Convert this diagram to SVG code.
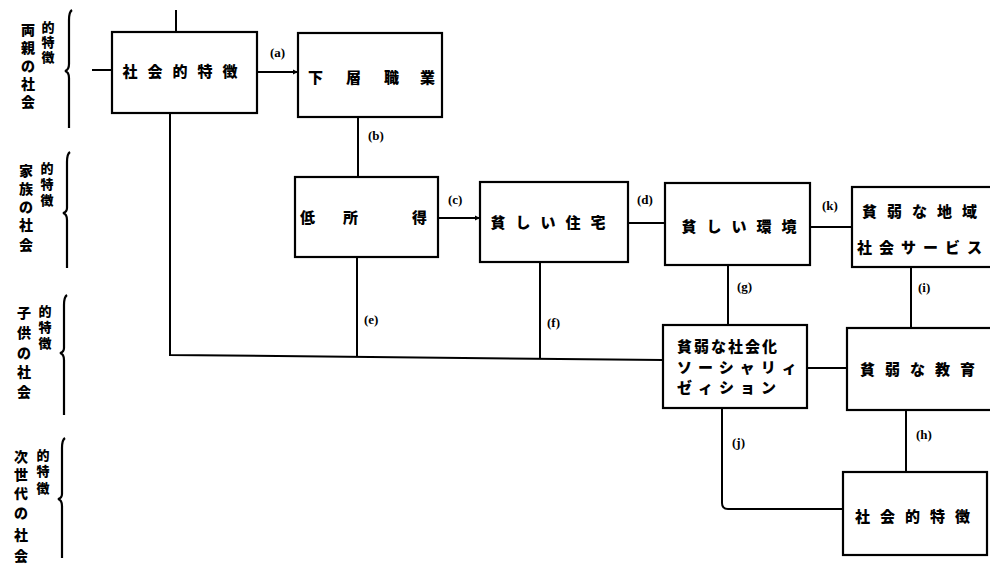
<svg xmlns="http://www.w3.org/2000/svg" width="990" height="565" viewBox="0 0 990 565">
<defs>
<style>
.box{fill:#fff;stroke:#000;stroke-width:2.2}
.ln{fill:none;stroke:#000;stroke-width:2}
.br{fill:none;stroke:#000;stroke-width:2.2}
.t{font-family:"Noto Sans CJK JP","Noto Sans CJK SC",sans-serif;font-weight:900;font-size:15px;fill:#000}
.sd{font-family:"Noto Sans CJK JP",sans-serif;font-weight:900;font-size:14px;fill:#000;text-anchor:middle}
.sr{font-family:"Noto Sans CJK JP",sans-serif;font-weight:900;font-size:13px;fill:#000;text-anchor:middle}
.lb{font-family:"Liberation Serif",serif;font-weight:bold;font-size:13px;fill:#000}
</style>
<marker id="ah" markerWidth="6" markerHeight="6" refX="5" refY="3" orient="auto" markerUnits="userSpaceOnUse">
<path d="M0,0.5 L5,3 L0,5.5 Z" fill="#000"/>
</marker>
</defs>
<rect width="990" height="565" fill="#fff"/>

<g id="side-labels">
<g id="side1">
<path class="br" d="M72,10 Q69,12 69,20 L69,64 Q69,70 65,71 Q69,72 69,78 L69,128"/>
<text class="sd" x="28" y="35">両</text>
<text class="sd" x="28" y="53">親</text>
<text class="sd" x="28" y="71">の</text>
<text class="sd" x="28" y="89">社</text>
<text class="sd" x="28" y="107">会</text>
<text class="sr" x="48" y="32">的</text>
<text class="sr" x="48" y="47">特</text>
<text class="sr" x="48" y="62">徴</text>
</g>
<g id="side2">
<path class="br" d="M70,152 Q67,154 67,162 L67,208 Q67,212 63,213 Q67,214 67,220 L67,268"/>
<text class="sd" x="26" y="176">家</text>
<text class="sd" x="26" y="194">族</text>
<text class="sd" x="26" y="212">の</text>
<text class="sd" x="26" y="230">社</text>
<text class="sd" x="26" y="250">会</text>
<text class="sr" x="47" y="173">的</text>
<text class="sr" x="47" y="189">特</text>
<text class="sr" x="47" y="205">徴</text>
</g>
<g id="side3">
<path class="br" d="M67,295 Q64,297 64,305 L64,348 Q64,352 60,353 Q64,354 64,360 L64,415"/>
<text class="sd" x="24" y="318">子</text>
<text class="sd" x="24" y="338">供</text>
<text class="sd" x="24" y="358">の</text>
<text class="sd" x="24" y="377">社</text>
<text class="sd" x="24" y="397">会</text>
<text class="sr" x="45" y="316">的</text>
<text class="sr" x="45" y="332">特</text>
<text class="sr" x="45" y="348">徴</text>
</g>
<g id="side4">
<path class="br" d="M65,438 Q62,440 62,448 L62,494 Q62,498 58,499 Q62,500 62,506 L62,558"/>
<text class="sd" x="21" y="462">次</text>
<text class="sd" x="21" y="480">世</text>
<text class="sd" x="21" y="499">代</text>
<text class="sd" x="21" y="518">の</text>
<text class="sd" x="21" y="540">社</text>
<text class="sd" x="21" y="561">会</text>
<text class="sr" x="43" y="460">的</text>
<text class="sr" x="43" y="476">特</text>
<text class="sr" x="43" y="493">徴</text>
</g>
</g>

<g id="connectors">
<path class="ln" d="M176,10 L176,32"/>
<path class="ln" d="M92,70 L112,70"/>
<path class="ln" d="M257,72 L298,72" marker-end="url(#ah)"/>
<path class="ln" d="M170,113 L170,355 L663,360"/>
<path class="ln" d="M358,117 L358,177"/>
<path class="ln" d="M438,218 L480,218" marker-end="url(#ah)"/>
<path class="ln" d="M628,223 L665,223"/>
<path class="ln" d="M810,227 L852,227"/>
<path class="ln" d="M357,257 L357,357"/>
<path class="ln" d="M540,262 L540,358"/>
<path class="ln" d="M728,265 L728,325"/>
<path class="ln" d="M911,267 L911,328"/>
<path class="ln" d="M807,368 L847,368"/>
<path class="ln" d="M906,410 L906,472"/>
<path class="ln" d="M722,408 L722,503 Q722,509 728,509 L843,509"/>
<text class="lb" x="270" y="57">(a)</text>
<text class="lb" x="368" y="140">(b)</text>
<text class="lb" x="448" y="204">(c)</text>
<text class="lb" x="637" y="204">(d)</text>
<text class="lb" x="822" y="210">(k)</text>
<text class="lb" x="737" y="291">(g)</text>
<text class="lb" x="918" y="292">(i)</text>
<text class="lb" x="364" y="324">(e)</text>
<text class="lb" x="547" y="327">(f)</text>
<text class="lb" x="916" y="439">(h)</text>
<text class="lb" x="732" y="447">(j)</text>
</g>

<g id="n-parent">
<rect class="box" x="112" y="32" width="145" height="81"/>
<text class="t" x="185" y="77" text-anchor="middle" letter-spacing="10">社会的特徴</text>
</g>
<g id="n-occupation">
<rect class="box" x="298" y="33" width="144" height="84"/>
<text class="t" x="308" y="83">下</text>
<text class="t" x="346" y="83">層</text>
<text class="t" x="384" y="83">職</text>
<text class="t" x="420" y="83">業</text>
</g>
<g id="n-income">
<rect class="box" x="295" y="177" width="143" height="80"/>
<text class="t" x="300" y="223">低</text>
<text class="t" x="343" y="223">所</text>
<text class="t" x="412" y="223">得</text>
</g>
<g id="n-housing">
<rect class="box" x="480" y="182" width="148" height="80"/>
<text class="t" x="553" y="228" text-anchor="middle" letter-spacing="10">貧しい住宅</text>
</g>
<g id="n-environment">
<rect class="box" x="665" y="183" width="145" height="82"/>
<text class="t" x="744" y="232" text-anchor="middle" letter-spacing="10">貧しい環境</text>
</g>
<g id="n-services">
<rect class="box" x="852" y="187" width="145" height="80"/>
<text class="t" x="862" y="217" letter-spacing="10">貧弱な地域</text>
<text class="t" x="857" y="253" letter-spacing="7">社会サービス</text>
</g>
<g id="n-socialization">
<rect class="box" x="663" y="325" width="144" height="83"/>
<text class="t" x="677" y="352" letter-spacing="2">貧弱な社会化</text>
<text class="t" x="677" y="373" letter-spacing="6">ソーシャリィ</text>
<text class="t" x="677" y="393" letter-spacing="6">ゼィション</text>
</g>
<g id="n-education">
<rect class="box" x="847" y="328" width="150" height="82"/>
<text class="t" x="860" y="375" letter-spacing="10">貧弱な教育</text>
</g>
<g id="n-nextgen">
<rect class="box" x="843" y="472" width="144" height="83"/>
<text class="t" x="855" y="522" letter-spacing="10">社会的特徴</text>
</g>
</svg>
